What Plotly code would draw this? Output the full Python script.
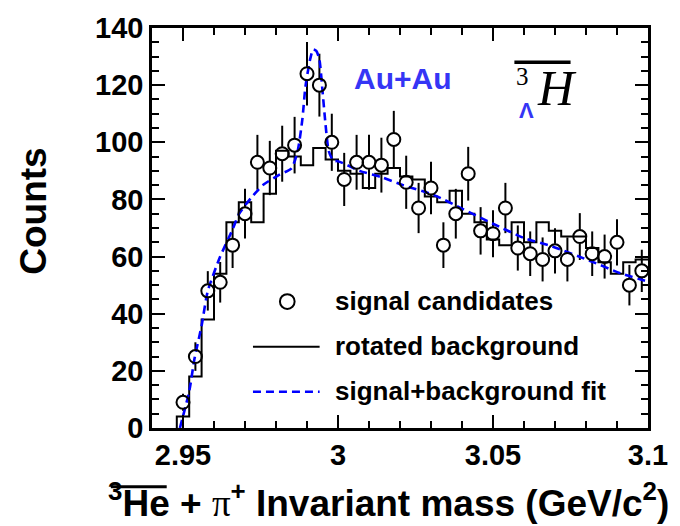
import plotly.graph_objects as go

# Bin centres of the invariant-mass histogram (GeV/c^2)
mass = [2.950, 2.954, 2.958, 2.962, 2.966, 2.970, 2.974, 2.978, 2.982, 2.986,
        2.990, 2.994, 2.998, 3.002, 3.006, 3.010, 3.014, 3.018, 3.022, 3.026,
        3.030, 3.034, 3.038, 3.042, 3.046, 3.050, 3.054, 3.058, 3.062, 3.066,
        3.070, 3.074, 3.078, 3.082, 3.086, 3.090, 3.094, 3.098]
bin_width = 0.004

# Signal candidates per bin and their statistical errors
signal = [9, 25, 48, 51, 64, 75, 93, 91, 96, 99,
          124, 120, 100, 87, 93, 93, 92, 101, 86, 77,
          84, 64, 75, 89, 69, 68, 77, 63, 61, 59,
          62, 59, 67, 61, 60, 65, 50, 55]
signal_err = [3.0, 5.0, 6.9, 7.1, 8.0, 8.7, 9.6, 9.5, 9.8, 9.9,
              11.1, 11.0, 10.0, 9.3, 9.6, 9.6, 9.6, 10.0, 9.3, 8.8,
              9.2, 8.0, 8.7, 9.4, 8.3, 8.2, 8.8, 7.9, 7.8, 7.7,
              7.9, 7.7, 8.2, 7.8, 7.7, 8.1, 7.1, 7.4]

# Rotated background per bin
background = [4, 18, 38, 54, 72, 79, 72, 82, 97, 95,
              92, 98, 94, 90, 89, 84, 89, 91, 88, 87,
              81, 79, 83, 75, 72, 66, 64, 72, 65, 72,
              69, 67, 67, 63, 58, 54, 58, 59]

# Signal + background fit curve
fit_mass = [2.9490, 2.9520, 2.9537, 2.9560, 2.9580, 2.9620, 2.9660, 2.9680,
            2.9720, 2.9760, 2.9810, 2.9850, 2.9870, 2.9885, 2.9895, 2.9910,
            2.9920, 2.9930, 2.9940, 2.9950, 2.9960, 2.9970, 2.9985, 3.0000,
            3.0070, 3.0140, 3.0210, 3.0310, 3.0400, 3.0500, 3.0600, 3.0690,
            3.0820, 3.0910, 3.1000]
fit_counts = [0.0, 12.8, 24.2, 35.8, 48.0, 60.0, 69.5, 74.8,
              80.6, 85.2, 88.6, 90.9, 97.0, 108.0, 119.5, 129.0,
              132.5, 132.0, 129.0, 118.0, 106.0, 97.0, 93.5, 93.4,
              90.0, 87.8, 85.0, 81.5, 76.8, 71.5, 66.5, 63.6,
              58.2, 54.2, 51.2]

W, H = 680, 526
L, R, T, B = 152, 658, 20, 428
BLUE = "#0000ff"
TEXT_BLUE = "#3535f5"
SANS = "Liberation Sans, Arial, sans-serif"
SERIF = "Liberation Serif, Times New Roman, serif"


def px(x):
    return (x - L) / (R - L)


def py(y):
    return (B - y) / (B - T)


# Histogram step outline from bin edges
edges = [m - bin_width / 2 for m in mass] + [mass[-1] + bin_width / 2]
step_x = [edges[0]] + edges
step_y = [0] + background + [background[-1]]

fig = go.Figure()

# Error bars (drawn first so the marker discs can hide them inside circles)
fig.add_trace(go.Scatter(
    x=mass, y=signal, mode="markers",
    marker=dict(size=2, opacity=0),
    error_y=dict(type="data", array=signal_err, thickness=2, width=0, color="black"),
    hoverinfo="skip", showlegend=False))
fig.add_trace(go.Scatter(
    x=mass, y=signal, mode="markers",
    marker=dict(size=14, color="white", line=dict(width=0)),
    hoverinfo="skip", showlegend=False))

# Rotated background histogram
fig.add_trace(go.Scatter(
    x=step_x, y=step_y, mode="lines", line=dict(color="black", width=2, shape="hv"),
    name="rotated background", showlegend=False))

# Signal + background fit
fig.add_trace(go.Scatter(
    x=fit_mass, y=fit_counts, mode="lines",
    line=dict(color=BLUE, width=2.6, dash="8px,5px", shape="spline", smoothing=0.6),
    name="signal+background fit", showlegend=False))

# Signal candidates
fig.add_trace(go.Scatter(
    x=mass, y=signal, mode="markers",
    marker=dict(symbol="circle-open", size=13, color="black", line=dict(width=2, color="black")),
    name="signal candidates", showlegend=False))

axis_common = dict(
    showline=True, linewidth=2.5, linecolor="black", mirror="ticks",
    ticks="inside", tickwidth=2, tickcolor="black", ticklen=13,
    showgrid=False, zeroline=False,
    tickfont=dict(family=SANS, size=29, color="black", weight="bold"),
)

fig.update_xaxes(
    range=[2.94, 3.1], tickmode="linear", tick0=2.95, dtick=0.05,
    minor=dict(dtick=0.01, tick0=2.94, ticks="inside", ticklen=7, tickwidth=2,
               tickcolor="black", showgrid=False),
    ticklabelstandoff=-1, **axis_common)
fig.update_yaxes(
    range=[0, 140], tickmode="linear", tick0=0, dtick=20,
    minor=dict(dtick=5, tick0=0, ticks="inside", ticklen=7, tickwidth=2,
               tickcolor="black", showgrid=False),
    ticklabelstandoff=0, **axis_common)

annotations = [
    # axis titles
    dict(x=px(31), y=py(207), text="<b>Counts</b>", textangle=-90,
         font=dict(family=SANS, size=37, color="black")),
    dict(x=px(393), y=py(502),
         text="<b><sup>3</sup>He + <span style=\"font-family:Liberation Serif;font-weight:normal\">π</span>"
              "<sup>+</sup> Invariant mass (GeV/c<sup>2</sup>)</b>",
         font=dict(family=SANS, size=37, color="black")),
    # collision system
    dict(x=px(356), y=py(71), xanchor="left", text="<b>Au+Au</b>",
         font=dict(family=SANS, size=30, color=TEXT_BLUE)),
    # particle label
    dict(x=px(530), y=py(69), text="3", font=dict(family=SERIF, size=25, color="black")),
    dict(x=px(565), y=py(81), text="<i>H</i>", font=dict(family=SERIF, size=50, color="black")),
    dict(x=px(534), y=py(104), text="<b>Λ</b>", font=dict(family=SANS, size=22, color=TEXT_BLUE)),
    # legend texts
    dict(x=px(337), y=py(298), xanchor="left", text="<b>signal candidates</b>",
         font=dict(family=SANS, size=26, color="black")),
    dict(x=px(337), y=py(344), xanchor="left", text="<b>rotated background</b>",
         font=dict(family=SANS, size=26, color="black")),
    dict(x=px(337), y=py(390), xanchor="left", text="<b>signal+background fit</b>",
         font=dict(family=SANS, size=26, color="black")),
]
for a in annotations:
    a.update(xref="paper", yref="paper", showarrow=False)
    a.setdefault("xanchor", "center")
    a.setdefault("yanchor", "middle")

shapes = [
    # overline of the anti-helium symbol
    dict(type="line", x0=px(110), x1=px(167), y0=py(488), y1=py(488),
         line=dict(color="black", width=3)),
    # overline of the anti-hypertriton symbol
    dict(type="line", x0=px(521.7), x1=px(579), y0=py(55), y1=py(55),
         line=dict(color="black", width=3.5)),
    # legend samples
    dict(type="circle", x0=px(282.5), x1=px(297.5), y0=py(306.5), y1=py(291.5),
         line=dict(color="black", width=2)),
    dict(type="line", x0=px(255), x1=px(323), y0=py(345), y1=py(345),
         line=dict(color="black", width=2)),
    dict(type="line", x0=px(255), x1=px(323), y0=py(391), y1=py(391),
         line=dict(color=BLUE, width=2.6, dash="8px,5px")),
]
for s in shapes:
    s.update(xref="paper", yref="paper")

fig.update_layout(
    width=W, height=H,
    margin=dict(l=L, r=W - R, t=T, b=H - B, pad=0),
    paper_bgcolor="white", plot_bgcolor="white",
    showlegend=False,
    annotations=annotations, shapes=shapes,
)

fig.write_html("out.html")
